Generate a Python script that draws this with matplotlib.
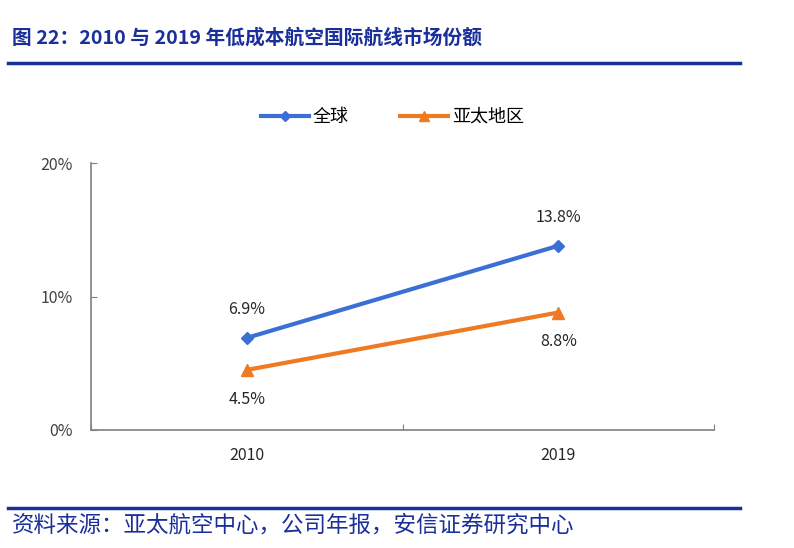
import matplotlib.pyplot as plt
from matplotlib.lines import Line2D

plt.rcParams['font.family'] = ['Noto Sans CJK SC', 'DejaVu Sans']

years = ['2010', '2019']
global_share = [6.9, 13.8]
apac_share = [4.5, 8.8]
y_ticks = [0, 10, 20]
y_tick_labels = ['0%', '10%', '20%']

title = '图 22：2010 与 2019 年低成本航空国际航线市场份额'
source = '资料来源：亚太航空中心，公司年报，安信证券研究中心'

blue = '#3b6fd6'
orange = '#f07a22'
navy = '#1a2f9a'
grey = '#7f7f7f'


def generate_chart():
    fig = plt.figure(figsize=(7.94, 5.48), dpi=100)
    ax = fig.add_axes([91 / 794, 1 - 430 / 548, 623 / 794, 267 / 548])

    x = [0.5, 1.5]
    ax.plot(x, global_share, color=blue, lw=3, marker='D', ms=6,
            solid_capstyle='butt', zorder=3)
    ax.plot(x, apac_share, color=orange, lw=3, marker='^', ms=8,
            solid_capstyle='butt', zorder=3)

    # labels des points
    for xi, v in zip(x, global_share):
        ax.annotate(f'{v}%', (xi, v), xytext=(0, 14), textcoords='offset points',
                    ha='center', va='bottom', fontsize=11.5, color='#262626')
    for xi, v in zip(x, apac_share):
        ax.annotate(f'{v}%', (xi, v), xytext=(0, -15), textcoords='offset points',
                    ha='center', va='top', fontsize=11.5, color='#262626')

    ax.set_xlim(0, 2)
    ax.set_ylim(0, 20)
    ax.set_yticks(y_ticks)
    ax.set_yticklabels(y_tick_labels)
    ax.set_xticks([0, 1, 2])
    ax.set_xticklabels([])
    ax.set_xticks(x, minor=True)
    ax.set_xticklabels(years, minor=True)
    ax.tick_params(axis='x', which='major', direction='in', length=4, color=grey)
    ax.tick_params(axis='x', which='minor', length=0, pad=12, labelsize=11.5,
                   labelcolor='#262626')
    ax.tick_params(axis='y', direction='in', length=4, color=grey, pad=13,
                   labelsize=11.5, labelcolor='#404040')
    for s in ['top', 'right']:
        ax.spines[s].set_visible(False)
    for s in ['left', 'bottom']:
        ax.spines[s].set_color(grey)
        ax.spines[s].set_linewidth(1.2)

    handles = [Line2D([], [], color=blue, lw=3, marker='D', ms=5),
               Line2D([], [], color=orange, lw=3, marker='^', ms=7)]
    fig.legend(handles, ['全球', '亚太地区'], loc='center', bbox_to_anchor=(0.494, 1 - 117 / 548),
               ncol=2, frameon=False, fontsize=13, handlelength=2.7, handletextpad=0.2,
               columnspacing=2.8)

    # titre et source
    fig.text(12 / 794, 1 - 38 / 548, title, fontsize=14.2, fontweight='bold',
             color=navy, va='center', ha='left')
    fig.add_artist(Line2D([8 / 794, 740 / 794], [1 - 63 / 548] * 2, color=navy, lw=2.5))
    fig.add_artist(Line2D([8 / 794, 740 / 794], [1 - 508 / 548] * 2, color=navy, lw=2.5))
    fig.text(12 / 794, 1 - 525 / 548, source, fontsize=16.2, color=navy,
             va='center', ha='left')

    fig.savefig('out.png', dpi=100)


if __name__ == '__main__':
    generate_chart()
